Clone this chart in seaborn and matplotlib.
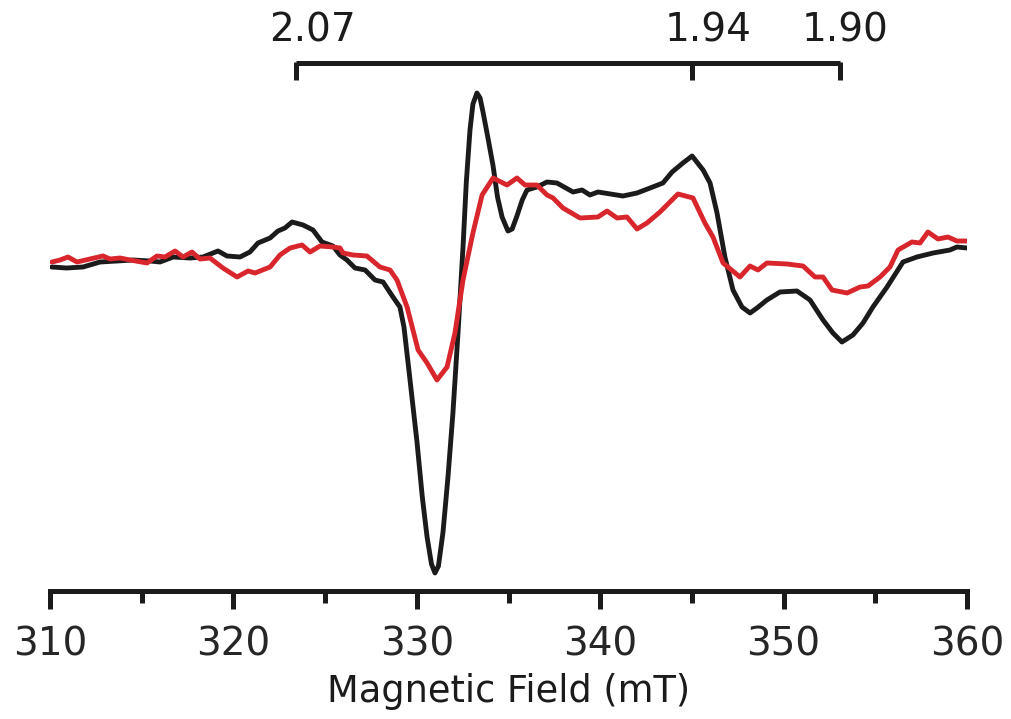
import matplotlib
matplotlib.use("Agg")
import matplotlib.pyplot as plt
import numpy as np
import pandas as pd
import seaborn as sns

# EPR spectra: magnetic field (mT) vs. derivative intensity (arb. units)
field_black = [310.09, 310.91, 311.80, 312.73, 313.65, 314.53, 315.45, 316.00, 316.71, 317.63,
               318.34, 319.16, 319.65, 320.36, 320.90, 321.34, 322.00, 322.43, 322.81, 323.20,
               323.80, 324.34, 324.83, 325.43, 325.81, 326.19, 326.63, 327.18, 327.72, 328.16,
               328.70, 329.08, 329.30, 329.60, 330.01, 330.30, 330.56, 330.80, 330.99, 331.18,
               331.43, 331.70, 331.97, 332.25, 332.52, 332.70, 332.90, 333.06, 333.28, 333.45,
               333.61, 333.87, 334.16, 334.40, 334.65, 334.97, 335.20, 335.46, 335.75, 336.01,
               336.55, 337.10, 337.64, 338.52, 339.01, 339.44, 339.88, 341.24, 342.01, 342.72,
               343.42, 343.92, 344.51, 345.01, 345.61, 345.99, 346.37, 346.80, 347.24, 347.73,
               348.17, 348.55, 349.09, 349.80, 350.73, 351.44, 352.15, 352.69, 353.18, 353.78,
               354.33, 354.87, 355.64, 356.51, 357.27, 358.15, 359.07, 359.45, 360.00]
signal_black = [-5, -6, -5, 0, 1, 2, 1, 0, 5, 4,
                5, 11, 6, 5, 10, 19, 24, 31, 34, 40,
                37, 32, 20, 16, 7, 2, -6, -8, -18, -20,
                -35, -45, -65, -113, -180, -235, -275, -302, -311, -304,
                -270, -215, -151, -70, 15, 80, 132, 158, 169, 164,
                150, 125, 96, 65, 45, 31, 33, 46, 62, 72,
                75, 80, 79, 70, 72, 67, 70, 66, 69, 74,
                79, 90, 99, 106, 92, 79, 49, 5, -28, -45,
                -51, -46, -38, -30, -29, -38, -58, -71, -80, -73,
                -61, -45, -25, 0, 5, 9, 12, 15, 14]

field_red = [310.11, 310.55, 310.98, 311.47, 312.18, 312.89, 313.27, 313.82, 314.36, 315.29,
             315.83, 316.27, 316.82, 317.25, 317.74, 318.18, 318.72, 319.43, 320.20, 320.80,
             321.18, 322.00, 322.54, 323.09, 323.74, 324.18, 324.72, 325.43, 325.81, 325.98,
             326.52, 327.28, 327.99, 328.54, 328.92, 329.47, 330.07, 330.56, 331.10, 331.65,
             332.08, 332.52, 333.06, 333.56, 334.16, 334.92, 335.46, 335.90, 336.55, 337.10,
             337.43, 337.97, 338.90, 339.88, 340.37, 340.92, 341.46, 342.01, 342.55, 343.26,
             344.24, 345.06, 345.71, 346.15, 346.70, 347.62, 348.17, 348.60, 349.09, 350.19,
             351.06, 351.71, 352.15, 352.64, 353.46, 354.17, 354.60, 355.26, 355.80, 356.24,
             357.00, 357.44, 357.87, 358.42, 358.96, 359.45, 360.00]
signal_red = [0, 2, 5, 0, 3, 6, 3, 4, 2, -1,
              6, 5, 11, 5, 10, 3, 4, -6, -15, -9,
              -11, -5, 7, 14, 17, 10, 16, 15, 14, 9,
              7, 6, -5, -8, -18, -45, -88, -101, -118, -105,
              -71, -18, 29, 67, 84, 77, 84, 77, 77, 67,
              64, 54, 44, 45, 51, 44, 45, 33, 39, 50,
              68, 64, 39, 25, -1, -15, -4, -8, -1, -2,
              -4, -15, -15, -28, -31, -25, -24, -15, -5, 12,
              20, 19, 30, 23, 25, 21, 21]

# g-value markers along the top bracket
g_labels = ["2.07", "1.94", "1.90"]
g_fields = [323.4, 345.0, 353.1]

df = pd.concat([
    pd.DataFrame({"field": field_black, "signal": signal_black, "sample": "black"}),
    pd.DataFrame({"field": field_red, "signal": signal_red, "sample": "red"}),
], ignore_index=True)

sns.set_theme(style="white")
plt.rcParams["font.family"] = ["DejaVu Sans"]

fig = plt.figure(figsize=(10.12, 7.19), dpi=100)
ax = fig.add_axes([50 / 1012, 128 / 719, 917 / 1012, 591 / 719])

sns.lineplot(data=df, x="field", y="signal", hue="sample",
             palette={"black": "#1b1b1b", "red": "#d9262c"},
             sort=False, estimator=None, linewidth=3.5, legend=False, ax=ax,
             solid_joinstyle="round", solid_capstyle="round")

ax.set_xlim(310, 360)
ax.set_ylim(-329, 262)

for side in ("left", "right", "top"):
    ax.spines[side].set_visible(False)
ax.spines["bottom"].set_linewidth(3.6)
ax.spines["bottom"].set_color("#1b1b1b")

ax.set_xticks(np.arange(310, 361, 10))
ax.set_xticks(np.arange(315, 360, 10), minor=True)
ax.set_yticks([])
ax.tick_params(axis="x", which="major", direction="out", length=13, width=3.6,
               color="#1b1b1b", labelsize=28, pad=12, bottom=True)
ax.tick_params(axis="x", which="minor", direction="out", length=8.5, width=3.6,
               color="#1b1b1b", bottom=True)
ax.set_xlabel("Magnetic Field (mT)", fontsize=26.5, labelpad=7, color="#1b1b1b")
ax.set_ylabel("")

# g-value bracket above the spectra
bracket_y, tick_y = 199, 182
ax.plot([g_fields[0], g_fields[-1]], [bracket_y, bracket_y], color="#1b1b1b",
        lw=3.6, solid_capstyle="butt", clip_on=False)
for gx in g_fields:
    ax.plot([gx, gx], [bracket_y + 1.5, tick_y], color="#1b1b1b", lw=3.6,
            solid_capstyle="butt", clip_on=False)
label_shift = [0.9, 0.9, 0.25]
for lab, gx, dx in zip(g_labels, g_fields, label_shift):
    ax.text(gx + dx, 231, lab, ha="center", va="center", fontsize=28,
            color="#1b1b1b", clip_on=False)

fig.savefig("out.png", dpi=100)
